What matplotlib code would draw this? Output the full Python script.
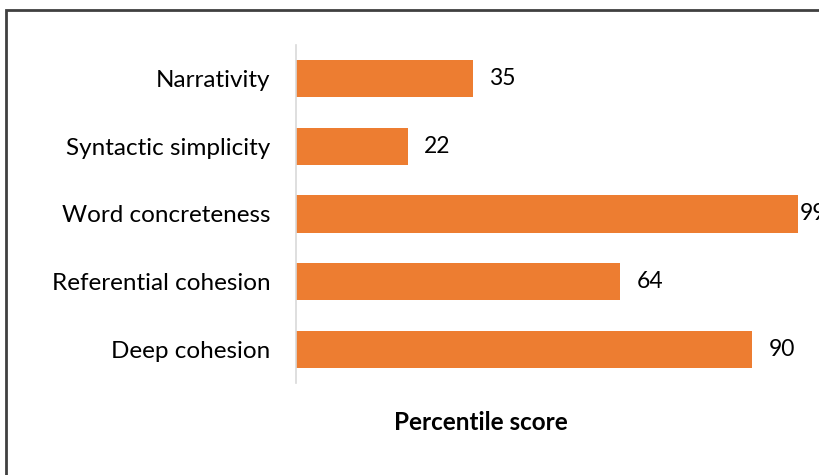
import matplotlib
matplotlib.use("Agg")
import matplotlib.pyplot as plt
from matplotlib.patches import Rectangle

categories = ["Narrativity", "Syntactic simplicity", "Word concreteness",
              "Referential cohesion", "Deep cohesion"]
values = [35, 22, 99, 64, 90]
xlabel = "Percentile score"

plt.rcParams['font.family'] = ['Lato', 'DejaVu Sans']

fig = plt.figure(figsize=(8.2, 4.75), dpi=100)
ax = fig.add_axes([296/820, 1-383/475, 507/820, 338/475])

ypos = list(range(len(categories)))
ax.barh(ypos, values, height=0.55, color="#ED7D31")
ax.set_ylim(len(categories)-0.5, -0.5)
ax.set_xlim(0, 100)
ax.set_yticks(ypos)
ax.set_yticklabels(categories, fontsize=17.5, color="#000000")
ax.tick_params(axis='y', length=0, pad=18.5)
ax.set_xticks([])
for s in ["top", "right", "bottom"]:
    ax.spines[s].set_visible(False)
ax.spines["left"].set_color("#D9D9D9")
ax.spines["left"].set_linewidth(1.2)

for y, v in zip(ypos, values):
    off = 11.5 if v < 95 else 1
    ax.annotate(str(v), (v, y), xytext=(off, 0), textcoords="offset points",
                va="center", ha="left", fontsize=16.5, annotation_clip=False)

fig.text(481/820, 1-423/475, xlabel, ha="center", va="center",
         fontsize=17.5, fontweight="bold")

fig.patches.append(Rectangle((6/820, -0.1), 1.2, 1-9.5/475+0.1,
                             transform=fig.transFigure, fill=False,
                             edgecolor="#404040", linewidth=2, clip_on=False))

fig.savefig("out.png", dpi=100)
